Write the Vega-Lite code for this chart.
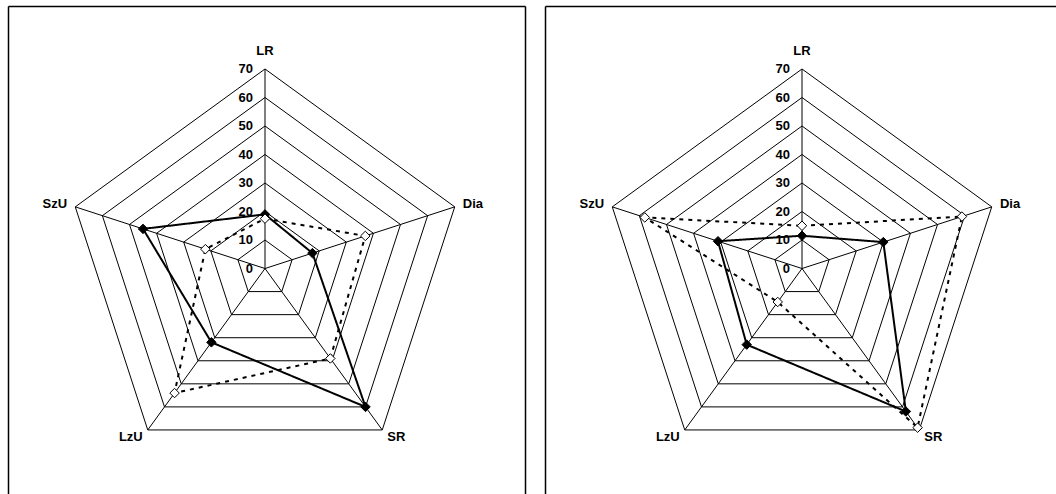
{
  "$schema": "https://vega.github.io/schema/vega-lite/v6.json",
  "background": "white",
  "padding": {"left": 8, "top": 6, "right": 0, "bottom": 0},
  "spacing": 20,
  "bounds": "flush",
  "config": {
    "view": {"stroke": null},
    "axis": {"domain": true, "domainColor": "black", "domainWidth": 1.5, "ticks": false, "labels": false, "grid": false, "title": null, "minExtent": 0, "maxExtent": 0},
    "text": {"font": "Liberation Sans", "fontWeight": "bold", "fontSize": 13, "fill": "black"}
  },
  "datasets": {
    "axes": [
      {"axis": "LR", "i": 0, "levels": [0, 10, 20, 30, 40, 50, 60, 70]},
      {"axis": "Dia", "i": 1, "levels": [0, 10, 20, 30, 40, 50, 60, 70]},
      {"axis": "SR", "i": 2, "levels": [0, 10, 20, 30, 40, 50, 60, 70]},
      {"axis": "LzU", "i": 3, "levels": [0, 10, 20, 30, 40, 50, 60, 70]},
      {"axis": "SzU", "i": 4, "levels": [0, 10, 20, 30, 40, 50, 60, 70]}
    ],
    "scores": [
      {"panel": "A", "series": "Series 1", "axis": "LR", "value": 19},
      {"panel": "A", "series": "Series 1", "axis": "Dia", "value": 17.5},
      {"panel": "A", "series": "Series 1", "axis": "SR", "value": 60},
      {"panel": "A", "series": "Series 1", "axis": "LzU", "value": 32},
      {"panel": "A", "series": "Series 1", "axis": "SzU", "value": 45},
      {"panel": "A", "series": "Series 2", "axis": "LR", "value": 17.5},
      {"panel": "A", "series": "Series 2", "axis": "Dia", "value": 37},
      {"panel": "A", "series": "Series 2", "axis": "SR", "value": 39},
      {"panel": "A", "series": "Series 2", "axis": "LzU", "value": 54},
      {"panel": "A", "series": "Series 2", "axis": "SzU", "value": 22},
      {"panel": "B", "series": "Series 1", "axis": "LR", "value": 11.5},
      {"panel": "B", "series": "Series 1", "axis": "Dia", "value": 30},
      {"panel": "B", "series": "Series 1", "axis": "SR", "value": 62},
      {"panel": "B", "series": "Series 1", "axis": "LzU", "value": 33},
      {"panel": "B", "series": "Series 1", "axis": "SzU", "value": 31},
      {"panel": "B", "series": "Series 2", "axis": "LR", "value": 15},
      {"panel": "B", "series": "Series 2", "axis": "Dia", "value": 59},
      {"panel": "B", "series": "Series 2", "axis": "SR", "value": 69},
      {"panel": "B", "series": "Series 2", "axis": "LzU", "value": 14.5},
      {"panel": "B", "series": "Series 2", "axis": "SzU", "value": 58}
    ]
  },
  "hconcat": [
    {
      "width": 517,
      "height": 488,
      "resolve": {"axis": {"y": "independent", "x": "independent"}},
      "encoding": {
        "x": {"field": "x", "type": "quantitative", "scale": {"domain": [-90.18, 91.23], "nice": false, "zero": false}, "axis": null},
        "y": {"field": "y", "type": "quantitative", "scale": {"domain": [-79.1, 92.1], "nice": false, "zero": false}, "axis": null}
      },
      "layer": [
        {
          "data": {"name": "axes"},
          "transform": [
            {"flatten": ["levels"], "as": ["level"]},
            {"filter": "datum.level > 0"},
            {"calculate": "datum.i * 2 * PI / 5", "as": "a"},
            {"calculate": "datum.level * sin(datum.a)", "as": "x"},
            {"calculate": "datum.level * cos(datum.a)", "as": "y"}
          ],
          "mark": {"type": "line", "interpolate": "linear-closed", "stroke": "black", "strokeWidth": 1},
          "encoding": {
            "x": {"field": "x", "type": "quantitative", "axis": {"orient": "top"}},
            "y": {"field": "y", "type": "quantitative", "axis": {"orient": "left"}},
            "detail": {"field": "level", "type": "nominal"},
            "order": {"field": "i", "type": "quantitative"}
          }
        },
        {
          "data": {"name": "axes"},
          "transform": [
            {"calculate": "datum.i * 2 * PI / 5", "as": "a"},
            {"calculate": "70 * sin(datum.a)", "as": "x"},
            {"calculate": "70 * cos(datum.a)", "as": "y"}
          ],
          "mark": {"type": "rule", "stroke": "black", "strokeWidth": 1},
          "encoding": {
            "y": {"field": "y", "type": "quantitative", "axis": {"orient": "right"}},
            "x2": {"datum": 0},
            "y2": {"datum": 0}
          }
        },
        {
          "data": {"name": "axes"},
          "transform": [
            {"filter": "datum.i == 0"},
            {"flatten": ["levels"], "as": ["level"]},
            {"calculate": "0", "as": "x"},
            {"calculate": "datum.level", "as": "y"}
          ],
          "mark": {"type": "text", "align": "right", "baseline": "middle", "dx": -12},
          "encoding": {"text": {"field": "level", "type": "quantitative"}}
        },
        {
          "data": {"name": "axes"},
          "transform": [
            {"filter": "datum.i == 0"},
            {"calculate": "0", "as": "x"},
            {"calculate": "70", "as": "y"}
          ],
          "mark": {"type": "text", "align": "center", "baseline": "middle", "dy": -18},
          "encoding": {"text": {"field": "axis", "type": "nominal"}}
        },
        {
          "data": {"name": "axes"},
          "transform": [
            {"filter": "datum.i == 1 || datum.i == 2"},
            {"calculate": "datum.i * 2 * PI / 5", "as": "a"},
            {"calculate": "73 * sin(datum.a)", "as": "x"},
            {"calculate": "73 * cos(datum.a)", "as": "y"}
          ],
          "mark": {"type": "text", "align": "left", "baseline": "middle"},
          "encoding": {"text": {"field": "axis", "type": "nominal"}}
        },
        {
          "data": {"name": "axes"},
          "transform": [
            {"filter": "datum.i >= 3"},
            {"calculate": "datum.i * 2 * PI / 5", "as": "a"},
            {"calculate": "73 * sin(datum.a)", "as": "x"},
            {"calculate": "73 * cos(datum.a)", "as": "y"}
          ],
          "mark": {"type": "text", "align": "right", "baseline": "middle"},
          "encoding": {"text": {"field": "axis", "type": "nominal"}}
        },
        {
          "data": {"name": "scores"},
          "transform": [
            {"filter": "datum.panel == 'A'"},
            {"lookup": "axis", "from": {"data": {"name": "axes"}, "key": "axis", "fields": ["i"]}},
            {"calculate": "datum.i * 2 * PI / 5", "as": "a"},
            {"calculate": "datum.value * sin(datum.a)", "as": "x"},
            {"calculate": "datum.value * cos(datum.a)", "as": "y"}
          ],
          "mark": {"type": "line", "interpolate": "linear-closed", "stroke": "black", "strokeWidth": 2},
          "encoding": {
            "strokeDash": {"field": "series", "type": "nominal", "scale": {"domain": ["Series 1", "Series 2"], "range": [[1, 0], [4, 5]]}, "legend": null},
            "order": {"field": "i", "type": "quantitative"}
          }
        },
        {
          "data": {"name": "scores"},
          "transform": [
            {"filter": "datum.panel == 'A'"},
            {"lookup": "axis", "from": {"data": {"name": "axes"}, "key": "axis", "fields": ["i"]}},
            {"calculate": "datum.i * 2 * PI / 5", "as": "a"},
            {"calculate": "datum.value * sin(datum.a)", "as": "x"},
            {"calculate": "datum.value * cos(datum.a)", "as": "y"}
          ],
          "mark": {"type": "point", "shape": "diamond", "filled": true, "size": 90, "stroke": "black", "strokeWidth": 1, "opacity": 1},
          "encoding": {
            "fill": {"field": "series", "type": "nominal", "scale": {"domain": ["Series 1", "Series 2"], "range": ["black", "white"]}, "legend": null}
          }
        }
      ]
    },
    {
      "width": 511,
      "height": 488,
      "resolve": {"axis": {"y": "independent", "x": "independent"}},
      "encoding": {
        "x": {"field": "x", "type": "quantitative", "scale": {"domain": [-90.18, 89.12], "nice": false, "zero": false}, "axis": null},
        "y": {"field": "y", "type": "quantitative", "scale": {"domain": [-79.1, 92.1], "nice": false, "zero": false}, "axis": null}
      },
      "layer": [
        {
          "data": {"name": "axes"},
          "transform": [
            {"flatten": ["levels"], "as": ["level"]},
            {"filter": "datum.level > 0"},
            {"calculate": "datum.i * 2 * PI / 5", "as": "a"},
            {"calculate": "datum.level * sin(datum.a)", "as": "x"},
            {"calculate": "datum.level * cos(datum.a)", "as": "y"}
          ],
          "mark": {"type": "line", "interpolate": "linear-closed", "stroke": "black", "strokeWidth": 1},
          "encoding": {
            "x": {"field": "x", "type": "quantitative", "axis": {"orient": "top"}},
            "y": {"field": "y", "type": "quantitative", "axis": {"orient": "left"}},
            "detail": {"field": "level", "type": "nominal"},
            "order": {"field": "i", "type": "quantitative"}
          }
        },
        {
          "data": {"name": "axes"},
          "transform": [
            {"calculate": "datum.i * 2 * PI / 5", "as": "a"},
            {"calculate": "70 * sin(datum.a)", "as": "x"},
            {"calculate": "70 * cos(datum.a)", "as": "y"}
          ],
          "mark": {"type": "rule", "stroke": "black", "strokeWidth": 1},
          "encoding": {"x2": {"datum": 0}, "y2": {"datum": 0}}
        },
        {
          "data": {"name": "axes"},
          "transform": [
            {"filter": "datum.i == 0"},
            {"flatten": ["levels"], "as": ["level"]},
            {"calculate": "0", "as": "x"},
            {"calculate": "datum.level", "as": "y"}
          ],
          "mark": {"type": "text", "align": "right", "baseline": "middle", "dx": -12},
          "encoding": {"text": {"field": "level", "type": "quantitative"}}
        },
        {
          "data": {"name": "axes"},
          "transform": [
            {"filter": "datum.i == 0"},
            {"calculate": "0", "as": "x"},
            {"calculate": "70", "as": "y"}
          ],
          "mark": {"type": "text", "align": "center", "baseline": "middle", "dy": -18},
          "encoding": {"text": {"field": "axis", "type": "nominal"}}
        },
        {
          "data": {"name": "axes"},
          "transform": [
            {"filter": "datum.i == 1 || datum.i == 2"},
            {"calculate": "datum.i * 2 * PI / 5", "as": "a"},
            {"calculate": "73 * sin(datum.a)", "as": "x"},
            {"calculate": "73 * cos(datum.a)", "as": "y"}
          ],
          "mark": {"type": "text", "align": "left", "baseline": "middle"},
          "encoding": {"text": {"field": "axis", "type": "nominal"}}
        },
        {
          "data": {"name": "axes"},
          "transform": [
            {"filter": "datum.i >= 3"},
            {"calculate": "datum.i * 2 * PI / 5", "as": "a"},
            {"calculate": "73 * sin(datum.a)", "as": "x"},
            {"calculate": "73 * cos(datum.a)", "as": "y"}
          ],
          "mark": {"type": "text", "align": "right", "baseline": "middle"},
          "encoding": {"text": {"field": "axis", "type": "nominal"}}
        },
        {
          "data": {"name": "scores"},
          "transform": [
            {"filter": "datum.panel == 'B'"},
            {"lookup": "axis", "from": {"data": {"name": "axes"}, "key": "axis", "fields": ["i"]}},
            {"calculate": "datum.i * 2 * PI / 5", "as": "a"},
            {"calculate": "datum.value * sin(datum.a)", "as": "x"},
            {"calculate": "datum.value * cos(datum.a)", "as": "y"}
          ],
          "mark": {"type": "line", "interpolate": "linear-closed", "stroke": "black", "strokeWidth": 2},
          "encoding": {
            "strokeDash": {"field": "series", "type": "nominal", "scale": {"domain": ["Series 1", "Series 2"], "range": [[1, 0], [4, 5]]}, "legend": null},
            "order": {"field": "i", "type": "quantitative"}
          }
        },
        {
          "data": {"name": "scores"},
          "transform": [
            {"filter": "datum.panel == 'B'"},
            {"lookup": "axis", "from": {"data": {"name": "axes"}, "key": "axis", "fields": ["i"]}},
            {"calculate": "datum.i * 2 * PI / 5", "as": "a"},
            {"calculate": "datum.value * sin(datum.a)", "as": "x"},
            {"calculate": "datum.value * cos(datum.a)", "as": "y"}
          ],
          "mark": {"type": "point", "shape": "diamond", "filled": true, "size": 90, "stroke": "black", "strokeWidth": 1, "opacity": 1},
          "encoding": {
            "fill": {"field": "series", "type": "nominal", "scale": {"domain": ["Series 1", "Series 2"], "range": ["black", "white"]}, "legend": null}
          }
        }
      ]
    }
  ]
}
